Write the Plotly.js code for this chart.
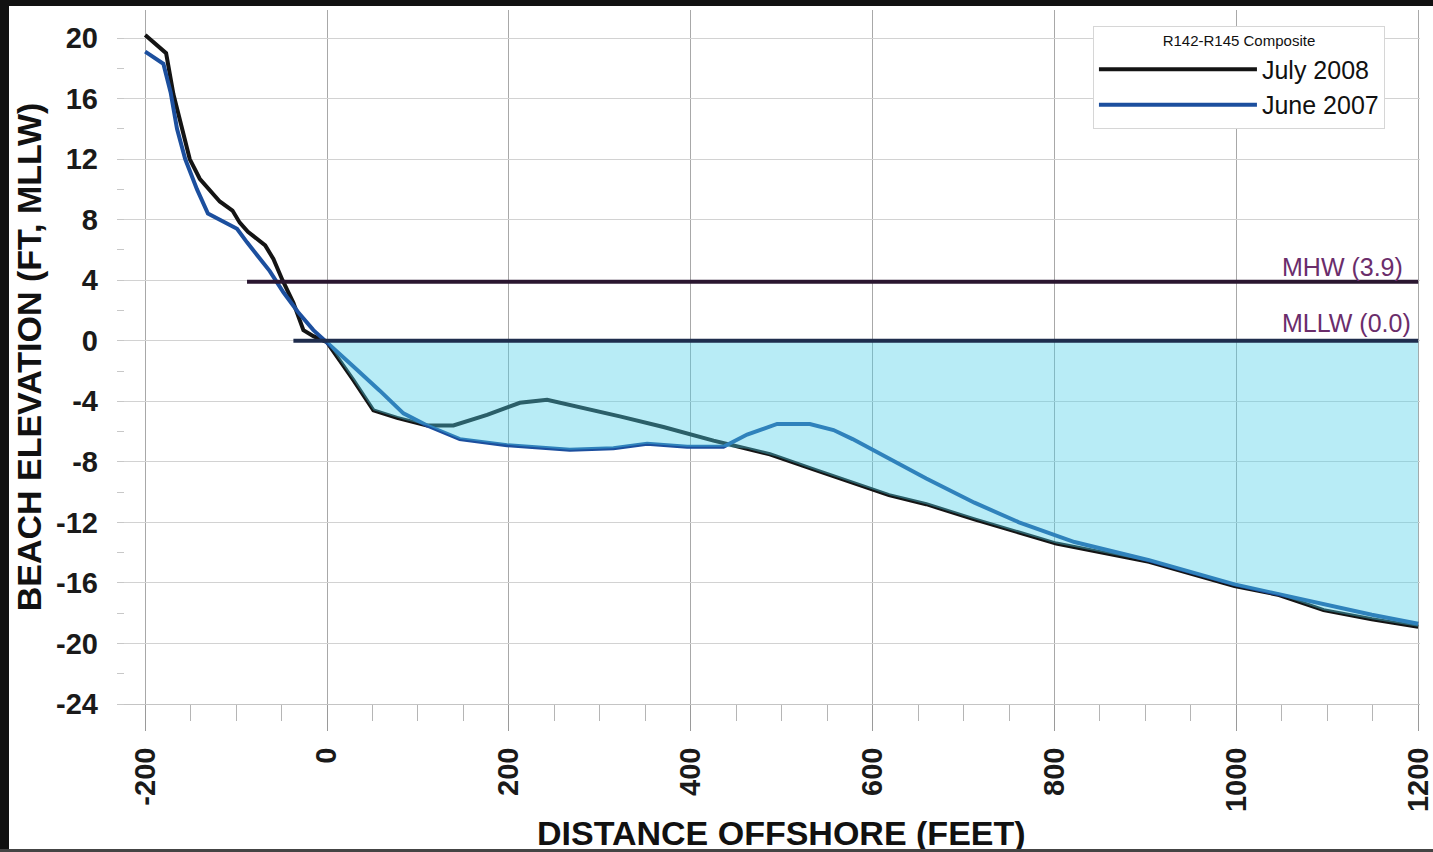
<!DOCTYPE html>
<html>
<head>
<meta charset="utf-8">
<script src="https://cdn.plot.ly/plotly-3.0.1.min.js"></script>
<style>
  html, body { margin: 0; padding: 0; background: #fff; }
  #wrap { position: relative; width: 1433px; height: 852px; overflow: hidden; }
  #chart { position: absolute; left: 0; top: 0; width: 1433px; height: 852px; }
  .frame { position: absolute; pointer-events: none; }
</style>
</head>
<body>
<div id="wrap">
  <div id="chart"></div>
  <div class="frame" style="left:0;top:0;width:1433px;height:6px;background:#111;"></div>
  <div class="frame" style="left:0;top:0;width:9px;height:852px;background:#111;"></div>
  <div class="frame" style="left:0;top:849px;width:1433px;height:3px;background:#444;"></div>
</div>
<script>
// ---- Data ----
const july2008X = [-200, -177, -169, -159, -151, -140, -118, -104, -96, -87, -68, -59, -49, -37, -26, -15, 0,
                   29, 51, 77, 110, 139, 176, 212, 242, 322, 370, 425, 487, 535, 578, 618, 659, 712, 802, 904, 998, 1047, 1096, 1149, 1200];
const july2008Y = [20.2, 19.0, 16.3, 14.0, 12.0, 10.7, 9.2, 8.6, 7.8, 7.2, 6.3, 5.4, 4.0, 2.5, 0.7, 0.3, -0.1,
                   -2.6, -4.6, -5.1, -5.6, -5.6, -4.9, -4.1, -3.9, -5.0, -5.7, -6.6, -7.5, -8.5, -9.4, -10.2, -10.8, -11.8, -13.4, -14.6, -16.2, -16.8, -17.8, -18.4, -18.9];

const june2007X = [-200, -180, -172, -165, -156, -143, -131, -107, -99, -88, -76, -63, -48, -32, -15, 0,
                   29, 58, 84, 110, 146, 198, 267, 315, 352, 396, 436, 462, 495, 531, 557, 578, 618, 659, 712, 761, 822, 904, 998, 1088, 1149, 1200];
const june2007Y = [19.1, 18.3, 16.4, 14.0, 12.0, 10.0, 8.4, 7.6, 7.4, 6.5, 5.6, 4.6, 3.2, 1.9, 0.7, -0.1,
                   -1.7, -3.3, -4.8, -5.6, -6.5, -6.9, -7.2, -7.1, -6.8, -7.0, -7.0, -6.2, -5.5, -5.5, -5.9, -6.5, -7.8, -9.1, -10.7, -12.0, -13.3, -14.5, -16.1, -17.3, -18.1, -18.7];

const mhwX = [-88, 1200];
const mhwLevel = 3.9;
const mllwX = [-37, 1200];
const mllwLevel = 0.0;

const seriesNames = ["July 2008", "June 2007"];
const legendTitle = "R142-R145 Composite";
const mhwLabel = "MHW (3.9)";
const mllwLabel = "MLLW (0.0)";

const xTickVals = [-200, 0, 200, 400, 600, 800, 1000, 1200];
const xTickLabels = ["-200", "0", "200", "400", "600", "800", "1000", "1200"];
const yTickVals = [-24, -20, -16, -12, -8, -4, 0, 4, 8, 12, 16, 20];
const yTickLabels = ["-24", "-20", "-16", "-12", "-8", "-4", "0", "4", "8", "12", "16", "20"];

const xTitle = "DISTANCE OFFSHORE (FEET)";
const yTitle = "BEACH ELEVATION (FT, MLLW)";

// ---- Water area below MLLW down to the lower of the two profiles ----
function interp(xs, ys, x) {
  if (x <= xs[0]) return ys[0];
  for (let i = 1; i < xs.length; i++) {
    if (x <= xs[i]) {
      const t = (x - xs[i - 1]) / (xs[i] - xs[i - 1]);
      return ys[i - 1] + t * (ys[i] - ys[i - 1]);
    }
  }
  return ys[ys.length - 1];
}
const fillX = Array.from(new Set(july2008X.concat(june2007X)))
  .filter(v => v >= 0 && v <= 1200).sort((a, b) => a - b);
const fillY = fillX.map(x => Math.min(interp(july2008X, july2008Y, x), interp(june2007X, june2007Y, x), mllwLevel));
const fillTop = fillX.map(() => mllwLevel);

const FONT = "Liberation Sans, Arial, Helvetica, sans-serif";

const traces = [
  { x: july2008X, y: july2008Y, name: seriesNames[0], type: "scatter", mode: "lines",
    legendgroup: "a", line: { color: "#141414", width: 4 } },
  { x: june2007X, y: june2007Y, name: seriesNames[1], type: "scatter", mode: "lines",
    legendgroup: "b", line: { color: "#1c4f9e", width: 4 } },
  { x: fillX, y: fillTop, type: "scatter", mode: "lines", showlegend: false,
    line: { width: 0, color: "rgba(0,0,0,0)" }, hoverinfo: "skip" },
  { x: fillX, y: fillY, type: "scatter", mode: "lines", showlegend: false, fill: "tonexty",
    fillcolor: "rgba(78,208,233,0.40)", line: { width: 0, color: "rgba(0,0,0,0)" }, hoverinfo: "skip" },
  { x: mhwX, y: mhwX.map(() => mhwLevel), type: "scatter", mode: "lines", showlegend: false,
    line: { color: "#2a1630", width: 4 } },
  { x: mllwX, y: mllwX.map(() => mllwLevel), type: "scatter", mode: "lines", showlegend: false,
    line: { color: "#1f2d4d", width: 4 } }
];

const layout = {
  width: 1433, height: 852,
  margin: { l: 117, r: 13, t: 10, b: 148 },
  paper_bgcolor: "#ffffff", plot_bgcolor: "#ffffff",
  font: { family: FONT, color: "#1a1a1a" },
  showlegend: true,
  xaxis: {
    range: [-231, 1202], autorange: false,
    tickmode: "array", tickvals: xTickVals, ticktext: xTickLabels,
    tickangle: -90,
    tickfont: { family: FONT, size: 29, weight: "bold", color: "#1a1a1a" },
    ticks: "outside", ticklen: 26, tickwidth: 1, tickcolor: "#9a9a9a",
    ticklabelstandoff: 5, ticklabeloverflow: "allow",
    minor: { dtick: 50, tick0: 0, ticks: "outside", ticklen: 16, tickwidth: 1, tickcolor: "#b5b5b5", showgrid: false },
    showgrid: true, gridcolor: "#a8a8a8", gridwidth: 1,
    showline: true, linecolor: "#c4c4c4", linewidth: 1,
    zeroline: false,
    automargin: false
  },
  yaxis: {
    range: [-24, 21.85], autorange: false,
    tickmode: "array", tickvals: yTickVals, ticktext: yTickLabels,
    tickfont: { family: FONT, size: 29, weight: "bold", color: "#1a1a1a" },
    ticks: "", ticklabelstandoff: 18, ticklabeloverflow: "allow",
    minor: { dtick: 2, tick0: 0, ticks: "inside", ticklen: 7, tickwidth: 1, tickcolor: "#c8c8c8", showgrid: false },
    showgrid: true, gridcolor: "#d2d2d2", gridwidth: 1,
    showline: false, zeroline: false,
    title: { text: yTitle, font: { family: FONT, size: 34, weight: "bold", color: "#111" }, standoff: 4 },
    automargin: false
  },
  legend: {
    x: 0.749, y: 0.977, xanchor: "left", yanchor: "top",
    traceorder: "normal",
    bgcolor: "#ffffff", bordercolor: "#d6d6d6", borderwidth: 1,
    font: { family: FONT, size: 25, color: "#111" },
    title: { text: legendTitle, side: "top center", font: { family: FONT, size: 15, color: "#111" } },
    itemwidth: 158, tracegroupgap: 2
  },
  annotations: [
    { x: 1185, y: 4.9, xref: "x", yref: "y", xanchor: "right", yanchor: "middle", text: mhwLabel,
      showarrow: false, font: { family: FONT, size: 25, color: "#6b2d6b" } },
    { x: 1194, y: 1.15, xref: "x", yref: "y", xanchor: "right", yanchor: "middle", text: mllwLabel,
      showarrow: false, font: { family: FONT, size: 25, color: "#6b2d6b" } },
    { x: 500, y: 0, xref: "x", yref: "paper", yanchor: "middle", xanchor: "center", text: xTitle,
      showarrow: false, font: { family: FONT, size: 34, weight: "bold", color: "#111" } }
  ]
};
// place the x-axis title in pixel terms below the tick labels
layout.annotations[2].y = (704 - 833) / 694;

Plotly.newPlot("chart", traces, layout, { staticPlot: true, displayModeBar: false });
</script>
</body>
</html>
